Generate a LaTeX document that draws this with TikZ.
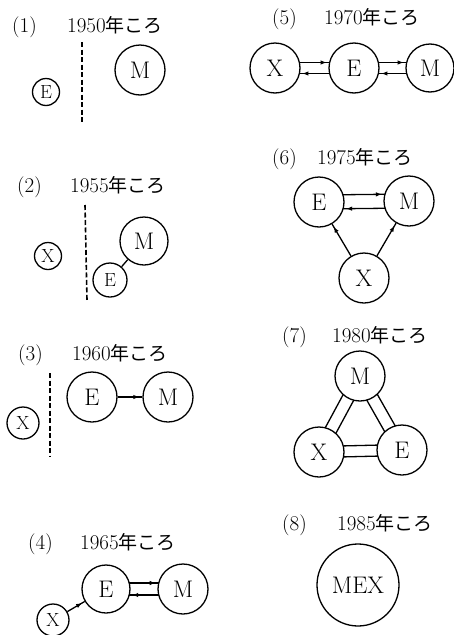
\documentclass[tikz,border=0pt]{standalone}
\usepackage{fontspec}
\newfontfamily\jp{Noto Sans CJK JP}
\usetikzlibrary{calc,arrows.meta,decorations.markings}
\tikzset{
  ttl/.style={anchor=base west, inner sep=0pt, font=\fontsize{21}{21}\selectfont},
  ball/.style={circle, draw, line width=1.3pt, inner sep=0pt, minimum size=#1, font=\fontsize{24}{24}\selectfont},
  sball/.style={circle, draw, line width=1.3pt, inner sep=0pt, minimum size=#1, font=\fontsize{19}{19}\selectfont},
  conn/.style={line width=1.3pt},
  tip/.style={postaction={decorate}, decoration={markings, mark=at position -3pt with {\arrow{Latex[length=6pt,width=4.5pt]}}}},
  wall/.style={line width=1.6pt, dash pattern=on 5pt off 2.5pt},
}
\newcommand\jy[1]{#1{\jp\fontsize{19}{19}\selectfont 年ころ}}
% [style]{A}{B}{offset}{ra}{rb}: line parallel to A--B on the left side of A->B
\newcommand\pline[6][]{%
  \draw[conn,#1] ($ ($(#2.center)!#5!(#3.center)$) !#4!90:(#3.center) $) --
                 ($ ($(#3.center)!#6!(#2.center)$) !#4!-90:(#2.center) $);}
\begin{document}
\begin{tikzpicture}[x=1pt,y=-1pt]
\useasboundingbox[fill=white] (0,0) rectangle (454,635);

% (1)
\node[ttl] (n1) at (12,32) {(1)};
\node[ttl] (y1) at (67,32) {\jy{1950}};
\draw[wall] (82,42) -- (82,123);
\node[sball=27pt] (e1) at (46,92) {E};
\node[ball=50pt] (m1) at (140,70) {M};

% (2)
\node[ttl] (n2) at (17,192) {(2)};
\node[ttl] (y2) at (70,192) {\jy{1955}};
\draw[wall] (85,205) -- (87,300);
\node[sball=27pt] (x2) at (48,256) {X};
\node[ball=48pt] (m2) at (144,241) {M};
\node[sball=34pt] (e2) at (110,280) {E};
\draw[conn] (e2) -- (m2);

% (3)
\node[ttl] (n3) at (18,360) {(3)};
\node[ttl] (y3) at (72,360) {\jy{1960}};
\draw[wall] (50,373) -- (50,457);
\node[sball=32pt] (x3) at (23,423) {X};
\node[ball=50pt] (e3) at (92,397) {E};
\node[ball=50pt] (m3) at (168,397) {M};
\draw[conn,tip] (e3) -- (m3);

% (4)
\node[ttl] (n4) at (28,549) {(4)};
\node[ttl] (y4) at (80,549) {\jy{1965}};
\node[ball=48pt] (e4) at (106,589) {E};
\node[ball=50pt] (m4) at (183,589) {M};
\node[sball=32pt] (x4) at (53,620) {X};
\draw[conn,tip] (x4) -- (e4);
\pline[tip]{e4}{m4}{6pt}{23.2pt}{24.3pt}
\pline[tip]{m4}{e4}{6pt}{24.3pt}{23.2pt}

% (5)
\node[ttl] (n5) at (272,24) {(5)};
\node[ttl] (y5) at (324,24) {\jy{1970}};
\node[ball=50pt] (x5) at (275,68) {X};
\node[ball=50pt] (e5) at (354,68) {E};
\node[ball=48pt] (m5) at (430,68) {M};
\pline[tip]{x5}{e5}{5.5pt}{24.4pt}{24.4pt}
\pline[tip]{e5}{x5}{5.5pt}{24.4pt}{24.4pt}
\pline[tip]{e5}{m5}{5.5pt}{24.4pt}{23.4pt}
\pline[tip]{m5}{e5}{5.5pt}{23.4pt}{24.4pt}

% (6)
\node[ttl] (n6) at (272,164) {(6)};
\node[ttl] (y6) at (317,164) {\jy{1975}};
\node[ball=50pt] (e6) at (319,202) {E};
\node[ball=50pt] (m6) at (409,201) {M};
\node[ball=50pt] (x6) at (364,278) {X};
\pline[tip]{e6}{m6}{7pt}{24pt}{24pt}
\pline[tip]{m6}{e6}{7pt}{24pt}{24pt}
\draw[conn,tip] (x6) -- (e6);
\draw[conn,tip] (x6) -- (m6);

% (7)
\node[ttl] (n7) at (282,342) {(7)};
\node[ttl] (y7) at (332,342) {\jy{1980}};
\node[ball=50pt] (m7) at (360,376) {M};
\node[ball=50pt] (x7) at (319,452) {X};
\node[ball=50pt] (e7) at (402,450) {E};
\pline{m7}{x7}{6pt}{24.3pt}{24.3pt}
\pline{x7}{m7}{6pt}{24.3pt}{24.3pt}
\pline{m7}{e7}{6pt}{24.3pt}{24.3pt}
\pline{e7}{m7}{6pt}{24.3pt}{24.3pt}
\pline{x7}{e7}{5.5pt}{24.4pt}{24.4pt}
\pline{e7}{x7}{5.5pt}{24.4pt}{24.4pt}

% (8)
\node[ttl] (n8) at (282,530) {(8)};
\node[ttl] (y8) at (337,530) {\jy{1985}};
\node[ball=82pt] (mex8) at (358,585) {MEX};
\end{tikzpicture}
\end{document}
